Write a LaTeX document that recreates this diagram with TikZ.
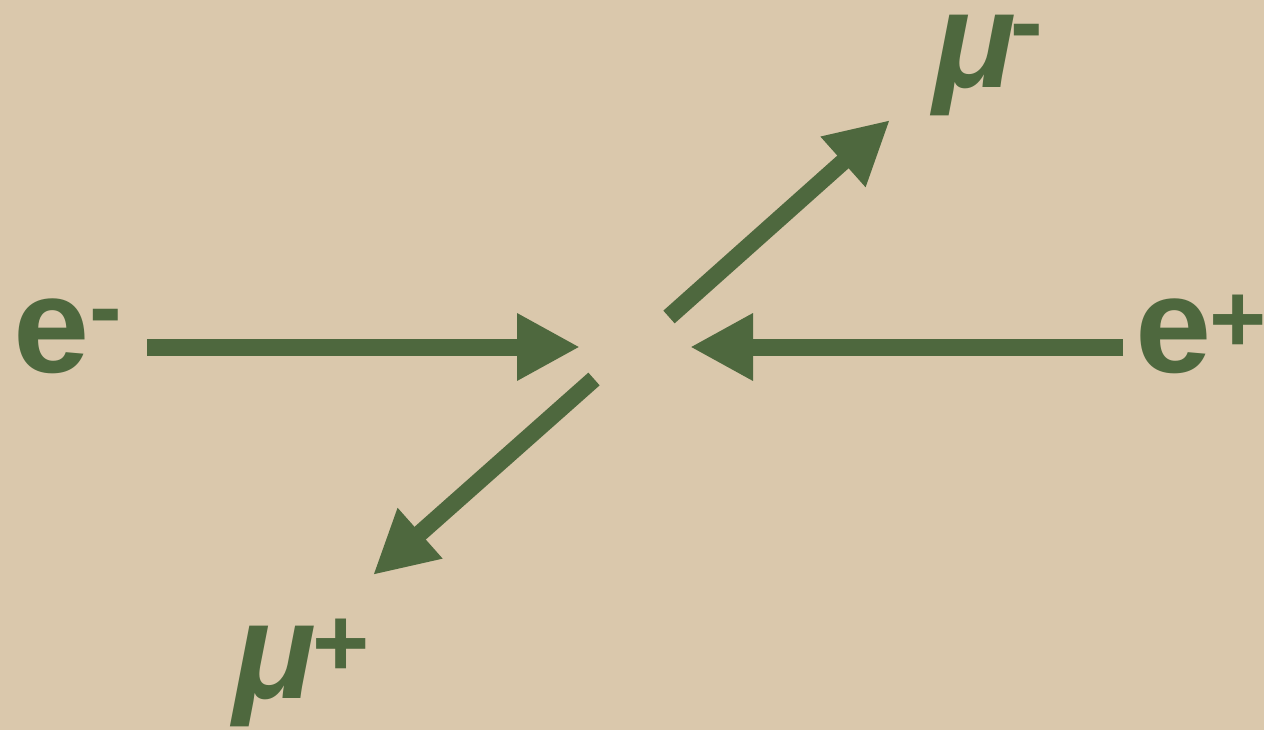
\documentclass[tikz,border=0pt]{standalone}
\usepackage{fontspec}
\setmainfont{Liberation Sans}
\usetikzlibrary{arrows.meta}
\definecolor{paper}{RGB}{218,200,172}
\definecolor{leaf}{RGB}{78,104,62}
\tikzset{
  particle/.style={inner sep=0pt, outer sep=0pt, anchor=base west, text=leaf,
    font=\fontsize{137}{137}\selectfont\bfseries},
  greek/.style={particle, font=\fontsize{137}{137}\selectfont\bfseries\itshape},
  charge/.style={inner sep=0pt, outer sep=0pt, anchor=base west, text=leaf,
    font=\fontsize{98}{98}\selectfont\bfseries},
  flow/.style={draw=leaf, line width=17pt, line cap=butt,
    -{Triangle[length=63pt,width=63pt]}}
}
\begin{document}
\begin{tikzpicture}[x=1pt,y=-1pt]
\useasboundingbox (0,0) rectangle (1264,730);
\fill[paper] (0,0) rectangle (1264,730);
% labels
\node[particle] (em) at (13,372) {e};
\node[charge] (emc) at (89,340) {-};
\node[particle] (ep) at (1135,372) {e};
\node[charge] (epc) at (1209,352) {+};
\node[greek] (mum) at (933,88) {μ};
\node[charge] (mumc) at (1010,56) {-};
\node[greek] (mup) at (233,698) {μ};
\node[charge] (mupc) at (312,676) {+};
% arrow end points
\coordinate (a1) at (147,347);
\coordinate (t1) at (580,347);
\coordinate (a2) at (1123,347);
\coordinate (t2) at (690,347);
\coordinate (a3) at (669,317);
\coordinate (t3) at (890,120);
\coordinate (a4) at (594,379);
\coordinate (t4) at (373,575);
\draw[flow] (a1) -- (t1);
\draw[flow] (a2) -- (t2);
\draw[flow] (a3) -- (t3);
\draw[flow] (a4) -- (t4);
\end{tikzpicture}
\end{document}
